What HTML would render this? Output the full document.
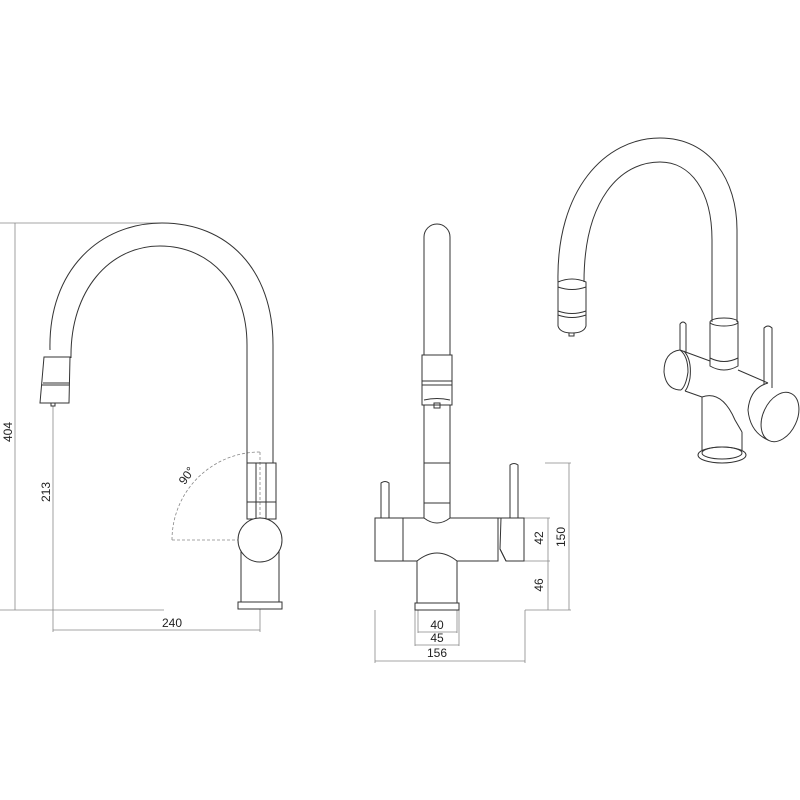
<!DOCTYPE html>
<html><head><meta charset="utf-8"><style>
html,body{margin:0;padding:0;background:#fff}
svg{display:block}
text{font-family:"Liberation Sans",sans-serif;font-size:12px;fill:#222}
</style></head><body>
<svg width="800" height="800" viewBox="0 0 800 800" xmlns="http://www.w3.org/2000/svg">
<g fill="none" stroke="#888" stroke-width="0.8">
<line x1="0" y1="223" x2="162" y2="223"/>
<line x1="0" y1="610" x2="164" y2="610"/>
<line x1="15" y1="223" x2="15" y2="610"/>
<line x1="53" y1="406" x2="53" y2="632"/>
<line x1="53" y1="630" x2="260" y2="630"/>
<line x1="260" y1="609" x2="260" y2="632"/>
<line x1="545" y1="463" x2="571" y2="463"/>
<line x1="569" y1="463" x2="569" y2="610"/>
<line x1="524" y1="518" x2="550" y2="518"/>
<line x1="524" y1="561" x2="550" y2="561"/>
<line x1="548" y1="518" x2="548" y2="610"/>
<line x1="525" y1="610" x2="571" y2="610"/>
<line x1="525" y1="610" x2="525" y2="663"/>
<line x1="375" y1="610" x2="375" y2="663"/>
<line x1="375" y1="661" x2="525" y2="661"/>
<line x1="418" y1="610" x2="418" y2="633"/>
<line x1="457" y1="610" x2="457" y2="633"/>
<line x1="418" y1="632" x2="457" y2="632"/>
<line x1="415" y1="610" x2="415" y2="646"/>
<line x1="459" y1="610" x2="459" y2="646"/>
<line x1="415" y1="645" x2="459" y2="645"/>
</g>
<g fill="none" stroke="#888" stroke-width="0.8" stroke-dasharray="3,2">
<line x1="172" y1="540" x2="260" y2="540"/>
<line x1="260" y1="452" x2="260" y2="540"/>
<path d="M172,540 A88,88 0 0 1 260,452"/>
</g>
<g fill="none" stroke="#333" stroke-width="1">
<!-- LEFT VIEW -->
<path d="M50,350 C48,270 100,223 162,223 C228,223 273,270 273,345 L273,463"/>
<path d="M71,358 C70,290 110,246 160,246 C210,246 247,285 247,345 L247,463"/>
<path d="M44,357 L70,357 L69,403 L40,403 Z"/>
<line x1="42" y1="385" x2="69" y2="385"/>
<line x1="43" y1="383" x2="69" y2="383"/>
<rect x="51" y="403" width="4" height="3"/>
<rect x="247" y="463" width="29" height="56"/>
<line x1="256" y1="463" x2="256" y2="519"/>
<line x1="266" y1="463" x2="266" y2="519"/>
<line x1="247" y1="502" x2="276" y2="502"/>
<line x1="241" y1="550" x2="241" y2="602"/>
<line x1="279" y1="550" x2="279" y2="602"/>
<circle cx="260" cy="540" r="22" fill="#fff"/>
<rect x="238" y="602" width="44" height="7"/>
<!-- MIDDLE VIEW -->
<path d="M424,355 L424,237 A13,13 0 0 1 450,237 L450,355"/>
<rect x="422" y="355" width="30" height="50"/>
<line x1="422" y1="381" x2="452" y2="381"/>
<line x1="422" y1="385" x2="452" y2="385"/>
<path d="M424,400 Q437,397 450,400"/>
<rect x="434" y="403" width="6" height="5"/>
<line x1="424" y1="405" x2="424" y2="463"/>
<line x1="450" y1="405" x2="450" y2="463"/>
<rect x="424" y="463" width="26" height="40"/>
<line x1="424" y1="503" x2="424" y2="518"/>
<line x1="450" y1="503" x2="450" y2="518"/>
<path d="M375,518 L424,518 Q437,528 450,518 L498,518 L498,561 L457,561 Q437,545 417,561 L375,561 Z"/>
<line x1="403" y1="518" x2="403" y2="561"/>
<path d="M498,518 L524,518 L524,561 L506,561 L500,549"/>
<path d="M501,518 L500,549 L506,561"/>
<line x1="417" y1="561" x2="417" y2="603"/>
<line x1="457" y1="561" x2="457" y2="603"/>
<rect x="415" y="603" width="44" height="7"/>
<path d="M381,518 L381,483 Q385,480 389,483 L389,518"/>
<path d="M510,518 L510,465 Q514,462 518,465 L518,518"/>
<!-- RIGHT ISO VIEW -->
<path d="M558,282 C556,190 605,138 660,138 C710,138 737,180 737,230 L737,322"/>
<path d="M584,282 C584,200 620,162 660,162 C690,162 712,190 712,240 L712,322"/>
<path d="M558,282 Q572,276 586,282 L586,326 Q584,333 572,333 Q560,333 558,326 Z"/>
<path d="M558,287 Q572,292 586,287"/>
<path d="M558,311 Q572,316 586,311"/>
<path d="M558,315 Q572,320 586,315"/>
<path d="M569,333 L569,336 L574,336 L574,333"/>
<ellipse cx="724" cy="322" rx="14" ry="4"/>
<path d="M710,322 L710,366 Q724,374 738,366 L738,322"/>
<path d="M710,358 Q724,365 738,358"/>
<path d="M680,350 L680,324 Q683,320 686,324 L686,352"/>
<path d="M764,385 L764,328 Q768,324 772,328 L772,388"/>
<path d="M680,350 Q664,352 664,372 Q666,390 681,390"/>
<path d="M680,350 Q688,356 688,372 Q686,386 681,390"/>
<path d="M684,351 Q692,360 690,378 Q688,388 685,391"/>
<path d="M680,350 L710,361 M738,370 L768,383"/>
<path d="M685,391 L702,397"/>
<path d="M702,397 Q722,390 735,420 L742,432"/>
<path d="M702,397 L702,450"/>
<path d="M742,432 L742,450"/>
<ellipse cx="722" cy="455" rx="24" ry="8" fill="#fff"/>
<ellipse cx="722" cy="453" rx="20" ry="6"/>
<path d="M768,383 Q750,388 748,410 Q750,432 768,440 L775,441"/>
<ellipse cx="780" cy="417" rx="17" ry="26" transform="rotate(25 780 417)" fill="#fff"/>
</g>
<text x="0" y="0" transform="translate(12,432) rotate(-90)" text-anchor="middle">404</text>
<text x="0" y="0" transform="translate(50,492) rotate(-90)" text-anchor="middle">213</text>
<text x="172" y="627" text-anchor="middle">240</text>
<text x="0" y="0" transform="translate(190,478) rotate(-55)" text-anchor="middle">90°</text>
<text x="0" y="0" transform="translate(543,538) rotate(-90)" text-anchor="middle">42</text>
<text x="0" y="0" transform="translate(543,585) rotate(-90)" text-anchor="middle">46</text>
<text x="0" y="0" transform="translate(565,537) rotate(-90)" text-anchor="middle">150</text>
<text x="437" y="629" text-anchor="middle">40</text>
<text x="437" y="642" text-anchor="middle">45</text>
<text x="437" y="657" text-anchor="middle">156</text>
</svg>
</body></html>
